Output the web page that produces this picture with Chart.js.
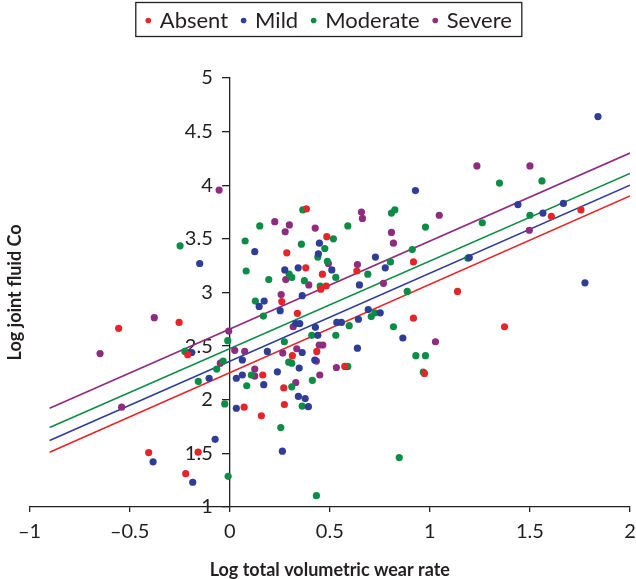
<!DOCTYPE html>
<html>
<head>
<meta charset="utf-8">
<script src="https://cdn.jsdelivr.net/npm/chart.js@4.4.1/dist/chart.umd.min.js"></script>
<style>
  html, body { margin: 0; padding: 0; background: #fff; }
  #wrap { width: 636px; height: 579px; }
</style>
</head>
<body>
<div id="wrap"><canvas id="chart"></canvas></div>
<script>
// Scatter of log joint fluid Co vs log total volumetric wear rate, by severity group
const GROUPS = ['Absent', 'Mild', 'Moderate', 'Severe'];

const absentPts = [
  [0.383, 3.78], [0.285, 3.37], [0.38, 3.23], [0.485, 3.52], [0.463, 3.17], [0.482, 3.06],
  [0.918, 3.285], [0.635, 3.2], [1.138, 3.01], [1.607, 3.71], [1.755, 3.77], [-0.555, 2.665],
  [-0.253, 2.72], [-0.405, 1.507], [-0.22, 1.31], [-0.21, 2.42], [-0.158, 1.51], [0.072, 1.93],
  [0.165, 2.23], [0.158, 1.85], [0.26, 2.915], [0.338, 2.805], [0.455, 3.03], [0.313, 2.41],
  [0.27, 2.11], [0.273, 1.955], [0.435, 2.45], [0.575, 2.31], [0.918, 2.76], [1.373, 2.68],
  [0.973, 2.245],
];

const mildPts = [
  [-0.15, 3.27], [0.125, 3.38], [0.275, 3.21], [0.342, 3.23], [0.448, 3.46], [0.443, 3.36],
  [0.51, 3.21], [0.928, 3.95], [0.728, 3.33], [0.777, 3.23], [0.648, 3.07], [1.197, 3.325],
  [1.84, 4.64], [1.44, 3.82], [1.565, 3.74], [1.667, 3.83], [1.775, 3.09], [-0.383, 1.42],
  [-0.19, 2.44], [-0.103, 2.2], [-0.073, 1.63], [-0.185, 1.23], [0.063, 2.37], [0.033, 2.2],
  [0.063, 2.23], [0.033, 1.92], [0.188, 2.45], [0.17, 2.14], [0.172, 2.92], [0.147, 2.87],
  [0.252, 2.83], [0.362, 2.97], [0.33, 2.71], [0.35, 2.71], [0.238, 2.26], [0.362, 2.44],
  [0.347, 2.295], [0.343, 2.03], [0.377, 2.01], [0.393, 1.935], [0.263, 1.52], [0.428, 2.675],
  [0.44, 2.6], [0.425, 2.37], [0.535, 2.72], [0.558, 2.72], [0.692, 2.84], [0.752, 2.81],
  [0.643, 2.75], [0.865, 2.575], [0.638, 2.48],
];

const moderatePts = [
  [-0.248, 3.435], [0.077, 3.48], [0.082, 3.2], [0.15, 3.62], [0.195, 3.12], [0.297, 3.17],
  [0.31, 3.14], [0.365, 3.77], [0.358, 3.45], [0.373, 3.11], [0.44, 3.33], [0.475, 3.41],
  [0.518, 3.5], [0.488, 3.29], [0.53, 3.14], [0.452, 3.06], [0.59, 3.62], [0.808, 3.74],
  [0.825, 3.77], [1.348, 4.02], [0.978, 3.61], [1.262, 3.65], [0.912, 3.4], [0.803, 3.285],
  [0.69, 3.17], [0.887, 3.01], [1.19, 3.32], [1.56, 4.04], [1.5, 3.72], [-0.224, 2.45],
  [-0.157, 2.17], [-0.065, 2.285], [-0.033, 2.36], [-0.01, 2.55], [-0.025, 1.96], [-0.008, 1.285],
  [0.085, 2.13], [0.108, 2.23], [0.128, 2.92], [0.168, 2.78], [0.273, 2.54], [0.295, 2.35],
  [0.31, 2.34], [0.31, 2.12], [0.362, 1.94], [0.255, 1.74], [0.433, 1.105], [0.41, 2.6],
  [0.413, 2.18], [0.53, 2.6], [0.59, 2.31], [0.725, 2.81], [0.707, 2.775], [0.597, 2.69],
  [0.818, 2.68], [0.93, 2.41], [0.978, 2.41], [0.967, 2.257], [0.847, 1.46],
];

const severePts = [
  [-0.053, 3.955], [0.225, 3.66], [0.277, 3.565], [0.298, 3.63], [0.28, 3.12], [0.427, 3.6],
  [0.395, 3.07], [0.493, 3.27], [0.658, 3.75], [0.663, 3.69], [1.235, 4.18], [1.047, 3.72],
  [0.808, 3.56], [0.818, 3.46], [0.638, 3.26], [0.768, 3.085], [1.5, 4.18], [1.497, 3.58],
  [-0.377, 2.765], [-0.648, 2.43], [-0.54, 1.93], [-0.047, 2.34], [-0.005, 2.64], [0.025, 2.46],
  [0.075, 2.45], [0.125, 2.285], [0.125, 2.22], [0.257, 2.98], [0.317, 2.68], [0.265, 2.435],
  [0.335, 2.475], [0.33, 2.16], [0.433, 2.36], [0.447, 2.51], [0.465, 2.51], [0.45, 2.23],
  [0.533, 2.3], [1.028, 2.54],
];

// fitted lines: end points at x = -0.9 and x = 2
const fitX = [-0.9, 2];
const fitAbsent = [1.51, 3.9];
const fitMild = [1.62, 4.0];
const fitModerate = [1.74, 4.11];
const fitSevere = [1.92, 4.3];

const xTicks = [-1, -0.5, 0, 0.5, 1, 1.5, 2];
const yTicks = [1, 1.5, 2, 2.5, 3, 3.5, 4, 4.5, 5];

const COLORS = ['#e52528', '#2f3d97', '#0c8d46', '#8e2c80'];
const INK = '#231f20';
const FAMILY = 'Lato, "Open Sans", sans-serif';
const TICK_FONT = { family: FAMILY, size: 20 };
const LEGEND_FONT = { family: FAMILY, size: 22 };
const TITLE_FONT = { family: FAMILY, size: 18, weight: 'bold' };
const LEGEND_GAP = 31;
const LEGEND_LIFT = 5.5;
const Y_LABEL_GAP = 17;

const toXY = (pts) => pts.map(([x, y]) => ({ x, y }));
const fmt = (v) => (v < 0 ? '\u2013' + Math.abs(v) : String(v));

function pointSet(label, pts, color) {
  return {
    label,
    data: toXY(pts),
    backgroundColor: color,
    borderColor: color,
    borderWidth: 0,
    pointRadius: 3.6,
    pointHoverRadius: 3.6,
    order: 0,
  };
}

function fitLine(ys, color) {
  return {
    label: 'fit',
    isFit: true,
    data: fitX.map((x, i) => ({ x, y: ys[i] })),
    showLine: true,
    borderColor: color,
    backgroundColor: color,
    borderWidth: 1.6,
    pointRadius: 0,
    fill: false,
    order: 1,
  };
}

// keep legend above a gap, center it over the plot, frame it
const legendFrame = {
  id: 'legendFrame',
  beforeInit(chart) {
    const fit = chart.legend.fit;
    chart.legend.fit = function () {
      fit.call(this);
      this.height += LEGEND_GAP;
    };
  },
  afterLayout(chart) {
    const lg = chart.legend;
    const area = chart.chartArea;
    const shift = (area.left + area.right) / 2 - (lg.left + lg.right) / 2;
    lg.left += shift;
    lg.right += shift;
    lg.top -= LEGEND_LIFT;
    lg.bottom -= LEGEND_LIFT;
  },
  afterDraw(chart) {
    const boxes = chart.legend.legendHitBoxes;
    if (!boxes || !boxes.length) return;
    const first = boxes[0];
    const last = boxes[boxes.length - 1];
    const ctx = chart.ctx;
    ctx.save();
    ctx.strokeStyle = INK;
    ctx.lineWidth = 1.3;
    const l = first.left - 12;
    const r = last.left + last.width + 10;
    const t = first.top - 7;
    const b = first.top + first.height + 5;
    ctx.strokeRect(l, t, r - l, b - t);
    ctx.restore();
  },
};

// y axis sits at x = 0; move its labels left of the line
function shiftYLabels(scale) {
  if (scale._labelShift) return;
  scale._labelShift = true;
  const orig = scale._computeLabelItems;
  scale._computeLabelItems = function (area) {
    const items = orig.call(this, area);
    items.forEach((it) => { it.options.translation[0] -= Y_LABEL_GAP; });
    return items;
  };
}

const ctx = document.getElementById('chart').getContext('2d');
new Chart(ctx, {
  type: 'scatter',
  data: {
    datasets: [
      pointSet(GROUPS[0], absentPts, COLORS[0]),
      pointSet(GROUPS[1], mildPts, COLORS[1]),
      pointSet(GROUPS[2], moderatePts, COLORS[2]),
      pointSet(GROUPS[3], severePts, COLORS[3]),
      fitLine(fitAbsent, COLORS[0]),
      fitLine(fitMild, COLORS[1]),
      fitLine(fitModerate, COLORS[2]),
      fitLine(fitSevere, COLORS[3]),
    ],
  },
  options: {
    responsive: true,
    maintainAspectRatio: false,
    animation: false,
    layout: { padding: { left: 0, right: 1, top: 0, bottom: 0 } },
    plugins: {
      legend: {
        position: 'top',
        labels: {
          usePointStyle: true,
          boxWidth: 1,
          boxHeight: 4,
          padding: 15,
          color: INK,
          font: LEGEND_FONT,
          filter: (item, data) => !data.datasets[item.datasetIndex].isFit,
        },
      },
      tooltip: { enabled: false },
    },
    scales: {
      x: {
        type: 'linear',
        position: 'bottom',
        min: -1,
        max: 2,
        afterBuildTicks: (s) => { s.ticks = xTicks.map((v) => ({ value: v })); },
        // tick padding also widens the side padding; keep the right edge tight
        afterFit: (s) => { s.paddingRight = 6; },
        ticks: { color: INK, font: TICK_FONT, padding: 8, callback: fmt },
        grid: { drawOnChartArea: false, drawTicks: true, tickLength: 5, color: INK, lineWidth: 1.3 },
        border: { color: INK, width: 1.3 },
        title: {
          display: true,
          text: 'Log total volumetric wear rate',
          color: INK,
          font: TITLE_FONT,
          padding: { top: 7, bottom: -1.5 },
        },
      },
      y: {
        type: 'linear',
        position: { x: 0 },
        min: 1,
        max: 5,
        afterBuildTicks: (s) => { s.ticks = yTicks.map((v) => ({ value: v })); },
        afterUpdate: shiftYLabels,
        ticks: { color: INK, font: TICK_FONT, callback: fmt },
        grid: { drawOnChartArea: false, drawTicks: true, tickLength: 7, color: INK, lineWidth: 1.3 },
        border: { color: INK, width: 1.3 },
      },
      yTitle: {
        type: 'linear',
        position: 'left',
        min: 0,
        max: 1,
        ticks: { display: false },
        grid: { display: false, drawTicks: false },
        border: { display: false },
        title: {
          display: true,
          text: 'Log joint fluid Co',
          color: INK,
          font: TITLE_FONT,
          padding: { top: 4, bottom: 4 },
        },
      },
    },
  },
  plugins: [legendFrame],
});
</script>
</body>
</html>
